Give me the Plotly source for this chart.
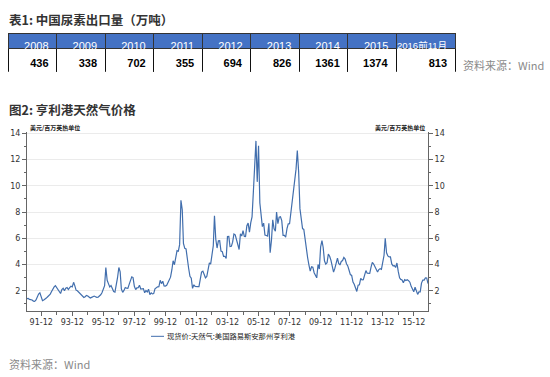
import plotly.graph_objects as go
import pandas as pd

# ---- Table 1 data ----
table_years = ["2008", "2009", "2010", "2011", "2012", "2013", "2014", "2015", "2016前11月"]
urea_export = [436, 338, 702, 355, 694, 826, 1361, 1374, 813]

# ---- Figure 2 data: Henry Hub monthly spot price (USD/MMBtu), Jan 1991 - Nov 2016 ----
p1991 = [1.40, 1.42, 1.35, 1.33, 1.30, 1.22, 1.20, 1.30, 1.55, 1.75, 1.85, 1.55]
p1992 = [1.25, 1.30, 1.35, 1.45, 1.55, 1.65, 1.75, 1.95, 2.15, 2.30, 2.40, 2.25]
p1993 = [2.15, 1.95, 1.80, 2.10, 2.20, 2.00, 2.20, 2.25, 2.10, 2.25, 2.35, 2.30]
p1994 = [2.65, 2.40, 2.05, 2.00, 1.90, 1.85, 1.75, 1.60, 1.50, 1.55, 1.65, 1.60]
p1995 = [1.50, 1.45, 1.50, 1.55, 1.60, 1.55, 1.50, 1.52, 1.60, 1.70, 1.85, 2.20]
p1996 = [2.40, 3.78, 2.80, 2.55, 2.30, 2.40, 2.10, 1.95, 1.90, 2.40, 3.00, 3.78]
p1997 = [3.45, 2.15, 1.89, 2.03, 2.25, 2.20, 2.19, 2.49, 2.88, 3.07, 3.01, 2.35]
p1998 = [2.09, 2.23, 2.24, 2.43, 2.14, 2.17, 2.17, 1.85, 2.02, 1.91, 2.12, 1.72]
p1999 = [1.85, 1.77, 1.79, 2.15, 2.26, 2.30, 2.31, 2.80, 2.55, 2.73, 2.37, 2.36]
p2000 = [2.42, 2.66, 2.79, 3.04, 3.59, 4.29, 3.99, 4.43, 5.06, 5.02, 5.52, 8.90]
p2001 = [8.17, 5.61, 5.23, 5.19, 4.19, 3.72, 3.11, 2.97, 2.19, 2.46, 2.34, 2.30]
p2002 = [2.32, 2.32, 3.03, 3.43, 3.50, 3.26, 2.99, 3.09, 3.55, 4.13, 4.04, 4.74]
p2003 = [5.43, 7.71, 5.93, 5.26, 5.81, 5.82, 5.03, 4.99, 4.62, 4.63, 4.47, 6.13]
p2004 = [6.14, 5.37, 5.39, 5.71, 6.33, 6.27, 5.93, 5.41, 5.15, 6.35, 6.17, 6.58]
p2005 = [6.15, 6.14, 6.96, 7.16, 6.47, 7.18, 7.63, 9.53, 11.75, 13.42, 10.30, 13.05]
p2006 = [8.69, 7.54, 6.89, 7.16, 6.25, 6.21, 6.17, 7.14, 4.90, 5.85, 7.41, 6.73]
p2007 = [6.55, 8.00, 7.11, 7.60, 7.64, 7.35, 6.22, 6.22, 6.08, 6.74, 7.10, 7.11]
p2008 = [7.99, 8.54, 9.41, 10.18, 11.27, 12.69, 11.09, 8.26, 7.67, 6.74, 6.68, 5.82]
p2009 = [5.24, 4.52, 3.96, 3.50, 3.83, 3.80, 3.38, 3.14, 2.99, 4.01, 3.66, 5.35]
p2010 = [5.83, 5.32, 4.29, 4.03, 4.14, 4.80, 4.63, 4.32, 3.89, 3.43, 3.71, 4.25]
p2011 = [4.49, 4.09, 3.97, 4.24, 4.31, 4.54, 4.42, 4.06, 3.90, 3.57, 3.24, 3.17]
p2012 = [2.67, 2.50, 2.17, 1.95, 2.43, 2.46, 2.95, 2.84, 2.85, 3.32, 3.54, 3.34]
p2013 = [3.33, 3.33, 3.81, 4.17, 4.04, 3.83, 3.62, 3.43, 3.62, 3.68, 3.64, 4.24]
p2014 = [4.71, 6.00, 4.90, 4.66, 4.58, 4.59, 4.05, 3.91, 3.92, 3.78, 4.12, 3.48]
p2015 = [2.99, 2.87, 2.83, 2.61, 2.85, 2.78, 2.84, 2.77, 2.66, 2.34, 2.09, 1.93]
p2016 = [2.28, 1.99, 1.73, 1.92, 1.92, 2.59, 2.82, 2.82, 2.99, 2.98, 2.55]

price = (p1991 + p1992 + p1993 + p1994 + p1995 + p1996 + p1997 + p1998 + p1999 + p2000
         + p2001 + p2002 + p2003 + p2004 + p2005 + p2006 + p2007 + p2008 + p2009 + p2010
         + p2011 + p2012 + p2013 + p2014 + p2015 + p2016)
months = pd.date_range("1991-01-31", periods=len(price), freq="ME")

x_tick_vals = [f"{y}-12-31" for y in range(1991, 2016, 2)]
x_tick_text = ["91-12", "93-12", "95-12", "97-12", "99-12", "01-12", "03-12",
               "05-12", "07-12", "09-12", "11-12", "13-12", "15-12"]
x_minor_vals = [f"{y}-12-31" for y in range(1992, 2017, 2)]

series_name = "现货价:天然气:美国路易斯安那州亨利港"
unit_label = "美元/百万英热单位"

W, H = 550, 377
CJK = "Noto Sans CJK SC"
LAT = "Liberation Sans, Noto Sans CJK SC"

fig = go.Figure()

# Table
fig.add_trace(go.Table(
    domain=dict(x=[8 / W, 455 / W], y=[1 - 70 / H, 1 - 31 / H]),
    columnwidth=[48.3] * 8 + [58.3],
    header=dict(values=table_years, fill_color="#4472C4",
                line=dict(color="#333333", width=1),
                font=dict(family=LAT, size=[11] * 8 + [9.5], color="white"),
                align="right", height=15),
    cells=dict(values=[[f"<b>{v}</b>"] for v in urea_export], fill_color="white",
               line=dict(color="#111111", width=1),
               font=dict(family=LAT, size=11, color="black"),
               align="right", height=15),
))

line_color = "#416EAD"
fig.add_trace(go.Scatter(x=months, y=price, mode="lines", name=series_name,
                         line=dict(color=line_color, width=1.2),
                         showlegend=False, xaxis="x", yaxis="y"))
fig.add_trace(go.Scatter(x=months, y=price, mode="lines", line=dict(color=line_color, width=1),
                         opacity=0, showlegend=False, hoverinfo="skip", xaxis="x", yaxis="y2"))

axis_col = "#666666"
tickfont = dict(family="DejaVu Sans", size=8, color="#333333")
yrange = [0.5, 14.1]
fig.update_layout(
    width=W, height=H, margin=dict(l=0, r=0, t=0, b=0),
    paper_bgcolor="white", plot_bgcolor="white",
    xaxis=dict(domain=[27 / W, 428 / W], type="date",
               range=[months[0], months[-1]],
               tickvals=x_tick_vals, ticktext=x_tick_text,
               ticks="outside", ticklen=4, tickcolor=axis_col,
               minor=dict(tickvals=x_minor_vals, ticks="outside", ticklen=3, tickcolor=axis_col),
               showline=True, linecolor=axis_col, linewidth=1, showgrid=False,
               tickfont=dict(family="DejaVu Sans", size=8, color="#333333")),
    yaxis=dict(domain=[(H - 310) / H, (H - 130) / H], range=yrange,
               tickvals=[2, 4, 6, 8, 10, 12, 14], ticks="outside", ticklen=4, tickcolor=axis_col,
               minor=dict(dtick=1, tick0=0, ticks="outside", ticklen=2, tickcolor=axis_col, showgrid=False),
               showline=True, linecolor=axis_col, linewidth=1,
               showgrid=True, gridcolor="#ebebeb", gridwidth=1, zeroline=False,
               tickfont=tickfont),
    yaxis2=dict(overlaying="y", side="right", range=yrange, anchor="x",
                tickvals=[2, 4, 6, 8, 10, 12, 14], ticks="outside", ticklen=4, tickcolor=axis_col,
                minor=dict(dtick=1, tick0=0, ticks="outside", ticklen=2, tickcolor=axis_col),
                showline=True, linecolor=axis_col, linewidth=1, showgrid=False, zeroline=False,
                tickfont=tickfont),
)

annotations = [
    dict(x=7 / W, y=1 - 17 / H, text="<b>表1: 中国尿素出口量（万吨）</b>",
         font=dict(family=CJK, size=12.5, color="#333333")),
    dict(x=461 / W, y=1 - 63 / H, text="资料来源：Wind",
         font=dict(family=CJK, size=11, color="#8a8a8a")),
    dict(x=7 / W, y=1 - 107 / H, text="<b>图2: 亨利港天然气价格</b>",
         font=dict(family=CJK, size=12.5, color="#333333")),
    dict(x=7 / W, y=1 - 364 / H, text="资料来源：Wind",
         font=dict(family=CJK, size=11, color="#8a8a8a")),
    dict(x=28 / W, y=1 - 126 / H, text="<b>" + unit_label + "</b>",
         font=dict(family=CJK, size=6, color="#222222")),
    dict(x=165 / W, y=1 - 336 / H, text=series_name,
         font=dict(family=CJK, size=7.3, color="#222222")),
]
for a in annotations:
    a.update(xref="paper", yref="paper", xanchor="left", yanchor="middle", showarrow=False)
fig.update_layout(annotations=annotations)
fig.add_annotation(x=427 / W, y=1 - 126 / H, xref="paper", yref="paper", xanchor="right",
                   yanchor="middle", showarrow=False, text="<b>" + unit_label + "</b>",
                   font=dict(family=CJK, size=6, color="#222222"))
fig.add_shape(type="line", xref="paper", yref="paper", x0=151 / W, x1=164 / W,
              y0=1 - 336 / H, y1=1 - 336 / H, line=dict(color=line_color, width=1))

fig.write_html("out.html", config={"displayModeBar": False},
               post_script="document.body.style.margin='0';document.body.style.overflow='hidden';")
